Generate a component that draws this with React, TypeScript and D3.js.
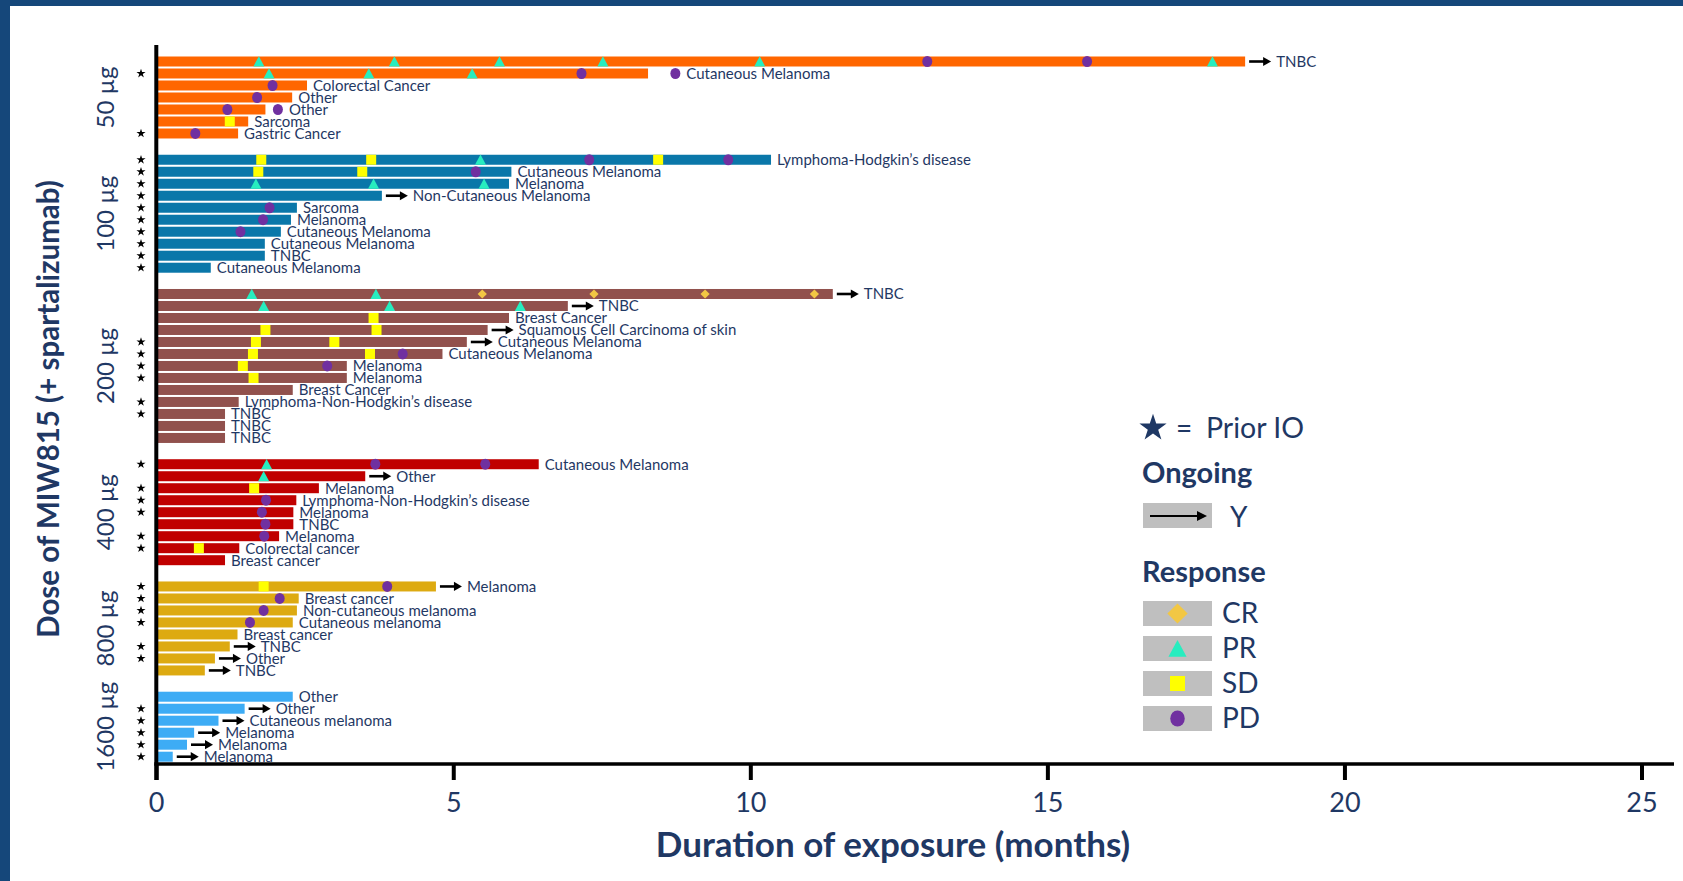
import React from "react";
import * as d3 from "d3";

type Row = {
  months: number;
  ongoing: boolean;
  priorIO: boolean;
  tumor: string;
  events: [string, number][];
};

// Dose cohorts, top to bottom
const doseLabels = ["50 µg", "100 µg", "200 µg", "400 µg", "800 µg", "1600 µg"];

const dose50: Row[] = [
  { months: 18.32, ongoing: true, priorIO: false, tumor: "TNBC", events: [["PR", 1.72], ["PR", 4.0], ["PR", 5.77], ["PR", 7.51], ["PR", 10.15], ["PD", 12.97], ["PD", 15.66], ["PR", 17.77]] },
  { months: 8.27, ongoing: false, priorIO: true, tumor: "Cutaneous Melanoma", events: [["PR", 1.89], ["PR", 3.57], ["PR", 5.31], ["PD", 7.15], ["PD", 8.73]] },
  { months: 2.53, ongoing: false, priorIO: false, tumor: "Colorectal Cancer", events: [["PD", 1.95]] },
  { months: 2.28, ongoing: false, priorIO: false, tumor: "Other", events: [["PD", 1.69]] },
  { months: 1.83, ongoing: false, priorIO: false, tumor: "Other", events: [["PD", 1.19], ["PD", 2.04]] },
  { months: 1.54, ongoing: false, priorIO: false, tumor: "Sarcoma", events: [["SD", 1.23]] },
  { months: 1.37, ongoing: false, priorIO: true, tumor: "Gastric Cancer", events: [["PD", 0.65]] },
];

const dose100: Row[] = [
  { months: 10.34, ongoing: false, priorIO: true, tumor: "Lymphoma-Hodgkin’s disease", events: [["SD", 1.76], ["SD", 3.61], ["PR", 5.45], ["PD", 7.28], ["SD", 8.44], ["PD", 9.62]] },
  { months: 5.97, ongoing: false, priorIO: true, tumor: "Cutaneous Melanoma", events: [["SD", 1.71], ["SD", 3.46], ["PD", 5.37]] },
  { months: 5.93, ongoing: false, priorIO: true, tumor: "Melanoma", events: [["PR", 1.67], ["PR", 3.65], ["PR", 5.51]] },
  { months: 3.79, ongoing: true, priorIO: true, tumor: "Non-Cutaneous Melanoma", events: [] },
  { months: 2.36, ongoing: false, priorIO: true, tumor: "Sarcoma", events: [["PD", 1.9]] },
  { months: 2.26, ongoing: false, priorIO: true, tumor: "Melanoma", events: [["PD", 1.79]] },
  { months: 2.09, ongoing: false, priorIO: true, tumor: "Cutaneous Melanoma", events: [["PD", 1.41]] },
  { months: 1.82, ongoing: false, priorIO: true, tumor: "Cutaneous Melanoma", events: [] },
  { months: 1.82, ongoing: false, priorIO: true, tumor: "TNBC", events: [] },
  { months: 0.91, ongoing: false, priorIO: true, tumor: "Cutaneous Melanoma", events: [] },
];

const dose200: Row[] = [
  { months: 11.38, ongoing: true, priorIO: false, tumor: "TNBC", events: [["PR", 1.6], ["PR", 3.69], ["CR", 5.48], ["CR", 7.36], ["CR", 9.23], ["CR", 11.07]] },
  { months: 6.92, ongoing: true, priorIO: false, tumor: "TNBC", events: [["PR", 1.8], ["PR", 3.92], ["PR", 6.12]] },
  { months: 5.93, ongoing: false, priorIO: false, tumor: "Breast Cancer", events: [["SD", 3.65]] },
  { months: 5.57, ongoing: true, priorIO: false, tumor: "Squamous Cell Carcinoma of skin", events: [["SD", 1.83], ["SD", 3.7]] },
  { months: 5.22, ongoing: true, priorIO: true, tumor: "Cutaneous Melanoma", events: [["SD", 1.67], ["SD", 2.99]] },
  { months: 4.81, ongoing: false, priorIO: true, tumor: "Cutaneous Melanoma", events: [["SD", 1.62], ["SD", 3.59], ["PD", 4.14]] },
  { months: 3.2, ongoing: false, priorIO: true, tumor: "Melanoma", events: [["SD", 1.45], ["PD", 2.87]] },
  { months: 3.2, ongoing: false, priorIO: true, tumor: "Melanoma", events: [["SD", 1.63]] },
  { months: 2.29, ongoing: false, priorIO: false, tumor: "Breast Cancer", events: [] },
  { months: 1.38, ongoing: false, priorIO: true, tumor: "Lymphoma-Non-Hodgkin’s disease", events: [] },
  { months: 1.15, ongoing: false, priorIO: true, tumor: "TNBC", events: [] },
  { months: 1.15, ongoing: false, priorIO: false, tumor: "TNBC", events: [] },
  { months: 1.15, ongoing: false, priorIO: false, tumor: "TNBC", events: [] },
];

const dose400: Row[] = [
  { months: 6.43, ongoing: false, priorIO: true, tumor: "Cutaneous Melanoma", events: [["PR", 1.85], ["PD", 3.68], ["PD", 5.53]] },
  { months: 3.51, ongoing: true, priorIO: false, tumor: "Other", events: [["PR", 1.8]] },
  { months: 2.73, ongoing: false, priorIO: true, tumor: "Melanoma", events: [["SD", 1.64]] },
  { months: 2.35, ongoing: false, priorIO: true, tumor: "Lymphoma-Non-Hodgkin’s disease", events: [["PD", 1.84]] },
  { months: 2.3, ongoing: false, priorIO: true, tumor: "Melanoma", events: [["PD", 1.77]] },
  { months: 2.3, ongoing: false, priorIO: false, tumor: "TNBC", events: [["PD", 1.83]] },
  { months: 2.06, ongoing: false, priorIO: true, tumor: "Melanoma", events: [["PD", 1.81]] },
  { months: 1.39, ongoing: false, priorIO: true, tumor: "Colorectal cancer", events: [["SD", 0.71]] },
  { months: 1.15, ongoing: false, priorIO: false, tumor: "Breast cancer", events: [] },
];

const dose800: Row[] = [
  { months: 4.7, ongoing: true, priorIO: true, tumor: "Melanoma", events: [["SD", 1.8], ["PD", 3.88]] },
  { months: 2.39, ongoing: false, priorIO: true, tumor: "Breast cancer", events: [["PD", 2.07]] },
  { months: 2.36, ongoing: false, priorIO: true, tumor: "Non-cutaneous melanoma", events: [["PD", 1.8]] },
  { months: 2.29, ongoing: false, priorIO: true, tumor: "Cutaneous melanoma", events: [["PD", 1.57]] },
  { months: 1.36, ongoing: false, priorIO: false, tumor: "Breast cancer", events: [] },
  { months: 1.23, ongoing: true, priorIO: true, tumor: "TNBC", events: [] },
  { months: 0.98, ongoing: true, priorIO: true, tumor: "Other", events: [] },
  { months: 0.81, ongoing: true, priorIO: false, tumor: "TNBC", events: [] },
];

const dose1600: Row[] = [
  { months: 2.29, ongoing: false, priorIO: false, tumor: "Other", events: [] },
  { months: 1.48, ongoing: true, priorIO: true, tumor: "Other", events: [] },
  { months: 1.04, ongoing: true, priorIO: true, tumor: "Cutaneous melanoma", events: [] },
  { months: 0.63, ongoing: true, priorIO: true, tumor: "Melanoma", events: [] },
  { months: 0.51, ongoing: true, priorIO: true, tumor: "Melanoma", events: [] },
  { months: 0.27, ongoing: true, priorIO: true, tumor: "Melanoma", events: [] },
];

const doseRows = [dose50, dose100, dose200, dose400, dose800, dose1600];
const xTicks = [0, 5, 10, 15, 20, 25];
const responseTypes = ["CR", "PR", "SD", "PD"];

// Styling
const W = 1683;
const H = 881;
const NAVY = "#1F3864";
const FONT = "Lato, 'Open Sans', sans-serif";
const groupColors = ["#FF6600", "#0A77A9", "#91514D", "#C00000", "#DDAA11", "#3DACF5"];
const markerColors: Record<string, string> = {
  CR: "#F2C744",
  PR: "#27EDBF",
  SD: "#FFFF00",
  PD: "#7030A0",
};
const BAR_H = 10;
const GROUP_GAP = 1.19;

const x = d3.scaleLinear().domain([0, 25]).range([156.7, 1642]);

type Placed = Row & { group: number; pos: number };
const placed: Placed[] = [];
let counter = 0;
doseRows.forEach((rows, g) => {
  rows.forEach((r) => {
    placed.push({ ...r, group: g, pos: counter + g * GROUP_GAP });
    counter += 1;
  });
});
const maxPos = d3.max(placed, (d) => d.pos) as number;
const y = d3.scaleLinear().domain([0, maxPos]).range([61.5, 756.7]);

function Marker({ type, cx, cy, k = 1 }: { type: string; cx: number; cy: number; k?: number }) {
  const fill = markerColors[type];
  if (type === "PR") {
    const hw = 5.5 * k;
    const p = `M${cx - hw},${cy + 5 * k}L${cx + hw},${cy + 5 * k}L${cx},${cy - 5.2 * k}Z`;
    return <path d={p} fill={fill} />;
  }
  if (type === "SD") {
    const s = 10 * k;
    return <rect x={cx - s / 2} y={cy - s / 2} width={s} height={s} fill={fill} />;
  }
  if (type === "CR") {
    const h = 4.6 * k;
    const p = `M${cx},${cy - h}L${cx + h},${cy}L${cx},${cy + h}L${cx - h},${cy}Z`;
    return <path d={p} fill={fill} />;
  }
  return <ellipse cx={cx} cy={cy} rx={5 * k} ry={5.5 * k} fill={fill} />;
}

function Arrow({ x0, x1, cy, w = 2.6, head = 8, hh = 4.6 }: { x0: number; x1: number; cy: number; w?: number; head?: number; hh?: number }) {
  return (
    <g>
      <line x1={x0} x2={x1 - head + 1} y1={cy} y2={cy} stroke="#000" strokeWidth={w} />
      <path d={`M${x1 - head},${cy - hh}L${x1},${cy}L${x1 - head},${cy + hh}Z`} fill="#000" />
    </g>
  );
}

const starPath = d3.symbol().type(d3.symbolStar).size(26)() as string;
const bigStarPath = d3.symbol().type(d3.symbolStar).size(230)() as string;

export default function App() {
  const axisY = 764;
  return (
    <div style={{ position: "absolute", left: 0, top: 0 }}>
      <svg width={W} height={H} style={{ display: "block", background: "#fff" }} fontFamily={FONT}>
        {/* frame */}
        <rect x={0} y={0} width={W} height={6} fill="#15477A" />
        <rect x={0} y={0} width={10} height={H} fill="#15477A" />

        {/* bars */}
        {placed.map((d, i) => {
          const cy = y(d.pos);
          const end = x(d.months);
          const markerEnd = d3.max(d.events, (e) => x(e[1]) + 5) ?? 0;
          let labelX = Math.max(end, markerEnd) + 6;
          if (d.ongoing) labelX = end + 31;
          return (
            <g key={i}>
              <rect x={x(0)} y={cy - BAR_H / 2} width={end - x(0)} height={BAR_H} fill={groupColors[d.group]} />
              {d.events.map((e, j) => (
                <Marker key={j} type={e[0]} cx={x(e[1])} cy={cy} />
              ))}
              {d.ongoing && <Arrow x0={end + 4} x1={end + 26} cy={cy} />}
              <text x={labelX} y={cy} dy="0.36em" fontSize={15} fill={NAVY}>
                {d.tumor}
              </text>
              {d.priorIO && <path d={starPath} transform={`translate(141,${cy})`} fill="#000" />}
            </g>
          );
        })}

        {/* dose group labels */}
        {doseRows.map((rows, g) => {
          const ps = placed.filter((p) => p.group === g);
          const mid = (y(ps[0].pos) + y(ps[ps.length - 1].pos)) / 2;
          return (
            <text
              key={g}
              transform={`translate(105,${mid}) rotate(-90)`}
              textAnchor="middle"
              dy="0.36em"
              fontSize={24}
              fill={NAVY}
            >
              {doseLabels[g]}
            </text>
          );
        })}

        {/* axes */}
        <line x1={156.3} x2={156.3} y1={45} y2={780} stroke="#000" strokeWidth={4} />
        <line x1={154.3} x2={1674} y1={axisY} y2={axisY} stroke="#000" strokeWidth={3.6} />
        {xTicks.map((t) => (
          <g key={t}>
            <line x1={x(t)} x2={x(t)} y1={axisY} y2={780} stroke="#000" strokeWidth={4} />
            <text x={x(t)} y={802} dy="0.36em" textAnchor="middle" fontSize={27} fill={NAVY}>
              {t}
            </text>
          </g>
        ))}
        <text x={893} y={844} dy="0.36em" textAnchor="middle" fontSize={35} fontWeight={700} fill={NAVY}>
          Duration of exposure (months)
        </text>
        <text
          transform="translate(48,409) rotate(-90)"
          textAnchor="middle"
          dy="0.36em"
          fontSize={29.5}
          fontWeight={700}
          fill={NAVY}
        >
          Dose of MIW815 (+ spartalizumab)
        </text>

        {/* legend */}
        <g fill={NAVY}>
          <path d={bigStarPath} transform="translate(1153,428)" fill={NAVY} />
          <text x={1176} y={428} dy="0.36em" fontSize={28}>=</text>
          <text x={1206} y={428} dy="0.36em" fontSize={28.5}>Prior IO</text>
          <text x={1142} y={483} fontSize={29} fontWeight={700}>Ongoing</text>
          <rect x={1143} y={503} width={69} height={25} fill="#BFBFBF" />
          <Arrow x0={1150} x1={1207} cy={516} w={2} head={10} hh={5} />
          <text x={1230} y={517} dy="0.36em" fontSize={28}>Y</text>
          <text x={1142} y={582} fontSize={29} fontWeight={700}>Response</text>
          {responseTypes.map((r, i) => {
            const by = 601 + i * 35;
            return (
              <g key={r}>
                <rect x={1143} y={by} width={69} height={25} fill="#BFBFBF" />
                <Marker type={r} cx={1177.5} cy={by + 12.5} k={r === "SD" ? 1.5 : r === "PD" ? 1.45 : r === "PR" ? 1.65 : 2.2} />
                <text x={1222} y={by + 12} dy="0.36em" fontSize={28}>{r}</text>
              </g>
            );
          })}
        </g>
      </svg>
    </div>
  );
}
